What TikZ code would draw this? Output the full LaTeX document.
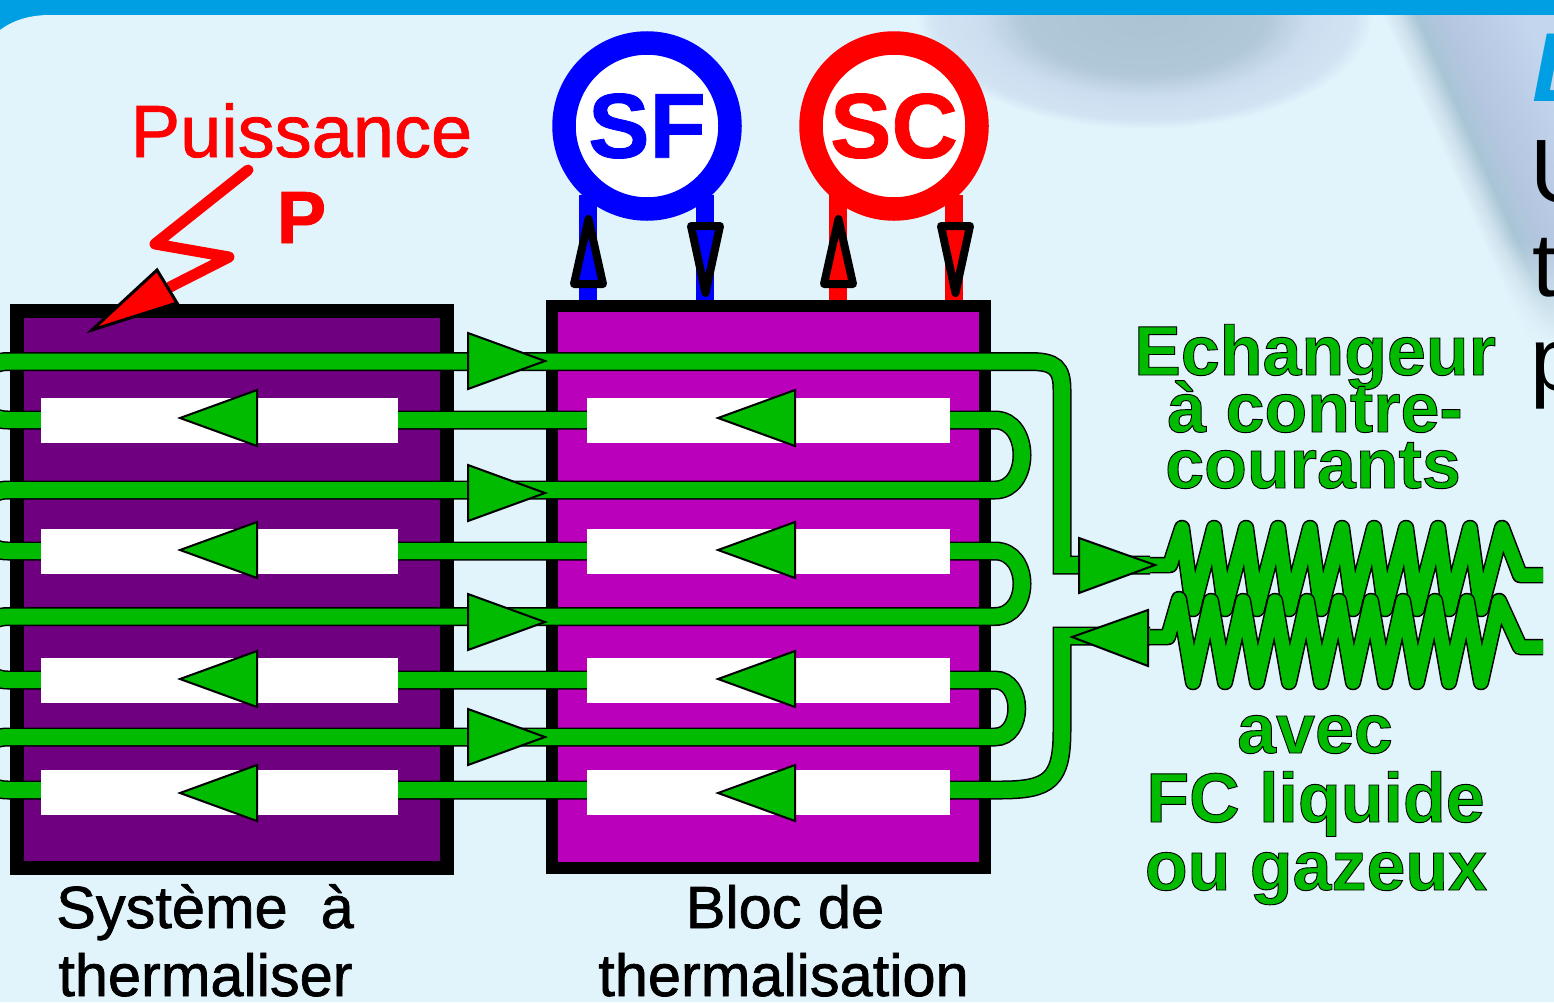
\documentclass[tikz,border=0pt]{standalone}
\usepackage{fontspec}
\setmainfont{Liberation Sans}
\usetikzlibrary{fadings}
\definecolor{bgc}{HTML}{E1F3FB}
\definecolor{barc}{HTML}{009FE3}
\definecolor{pipec}{HTML}{00BB00}
\definecolor{boxa}{HTML}{6F0080}
\definecolor{boxb}{HTML}{BB00BB}
\definecolor{ca}{HTML}{AAC4D4}
\definecolor{cb}{HTML}{B0C8D8}
\definecolor{cc}{HTML}{CCDDF0}
\definecolor{cd}{HTML}{D2E4F3}
\definecolor{ce}{HTML}{A9C5D5}
\definecolor{cf}{HTML}{B4C6E0}
\definecolor{cg}{HTML}{C4D6EE}
\definecolor{cx}{HTML}{CDE0EC}
\pgfdeclareradialshading{blobA}{\pgfpoint{0bp}{0bp}}{color(0bp)=(ca);color(13bp)=(cb);color(18bp)=(cc);color(23bp)=(cd);color(25bp)=(bgc);color(50bp)=(bgc)}
\pgfdeclarehorizontalshading{bandC}{100bp}{color(0bp)=(bgc);color(25bp)=(bgc);color(28bp)=(cx);color(31bp)=(ce);color(36bp)=(cf);color(50bp)=(cg);color(100bp)=(cg)}
\tikzfading[name=fadeBand,top color=transparent!100,bottom color=transparent!0]
\newcommand{\outlined}[1]{\special{pdf:code 2 Tr 0.9 w 0 0 0 RG}#1\special{pdf:code 0 Tr}}
\newcommand{\heavyred}[1]{\special{pdf:code 2 Tr 0.8 w 1 0 0 RG}#1\special{pdf:code 0 Tr}}
\newcommand{\heavyblue}[1]{\special{pdf:code 2 Tr 0.8 w 0 0 1 RG}#1\special{pdf:code 0 Tr}}
\newcommand{\heavyblack}[1]{\special{pdf:code 2 Tr 0.7 w 0 0 0 RG}#1\special{pdf:code 0 Tr}}
\tikzset{
  pipe/.style={draw=black,line width=1.5pt,double=pipec,double distance=16pt,line join=miter},
  coil/.style={draw=black,line width=1.5pt,double=pipec,double distance=13.5pt,line join=round},
  gbox/.style={draw=black,line width=2pt,fill=pipec,line join=miter},
  wbar/.style={fill=white},
  feed/.style={line width=18pt},
  gate/.style={draw=black,line width=8pt,line join=round},
  ring/.style={circle,fill=white,line width=23.5pt,minimum size=166pt,inner sep=0pt,font=\bfseries\fontsize{92}{92}\selectfont},
  blabel/.style={anchor=base,font=\fontsize{59.5}{59.5}\selectfont,inner sep=0pt},
  glabel/.style={anchor=base,text=pipec,font=\bfseries\fontsize{70}{70}\selectfont,inner sep=0pt},
  redlabel/.style={anchor=base,text=red,inner sep=0pt},
  edgeL/.style={anchor=base west,inner sep=0pt,font=\fontsize{90}{90}\selectfont}
}
\begin{document}
\begin{tikzpicture}[x=1pt,y=-1pt]
\useasboundingbox (0,0) rectangle (1554,1002);
\clip (0,0) rectangle (1554,1002);
% background
\fill[barc] (0,0) rectangle (1554,1002);
\fill[bgc] (0,30) .. controls (12,21) and (28,15) .. (50,15) -- (1554,15) -- (1554,1002) -- (0,1002) -- cycle;
\begin{scope}
\clip (0,15) rectangle (1554,1002);
\shade[shading=blobA] (1145,15) ellipse (228 and 114);
\begin{scope}[transform canvas={shift={(1383pt,-17pt)},rotate=24}]
\shade[shading=bandC] (0pt,-600pt) rectangle (260pt,100pt);
\end{scope}
\fill[bgc,path fading=fadeBand] (1370,240) rectangle (1554,345);
\fill[bgc] (1370,345) rectangle (1554,430);
\end{scope}
% boxes
\draw[fill=boxa,draw=black,line width=14pt] (16.5,311) rectangle (447,868);
\draw[fill=boxb,draw=black,line width=12pt] (552,306) rectangle (985,867.5);
% the continuous tube
\draw[pipe] (1150,565) -- (1062,565) -- (1062,390) .. controls (1062,368) and (1055,361.5) .. (1030,361.5)
  -- (8,361.5) .. controls (-32,361.5) and (-32,420) .. (8,420)
  -- (995,420) .. controls (1031,420) and (1031,490) .. (995,490)
  -- (8,490) .. controls (-32,490) and (-32,551) .. (8,551)
  -- (995,551) .. controls (1031,551) and (1031,616.5) .. (995,616.5)
  -- (8,616.5) .. controls (-32,616.5) and (-32,680) .. (8,680)
  -- (995,680) .. controls (1024,680) and (1024,737) .. (995,737)
  -- (8,737) .. controls (-32,737) and (-32,790) .. (8,790)
  -- (1000,790) .. controls (1050,790) and (1062,780) .. (1062,730) -- (1062,636) -- (1150,636);
% white bars
\foreach \yy in {398,529,658,770}{
  \fill[wbar] (41,\yy) rectangle (398,\yy+45);
  \fill[wbar] (587,\yy) rectangle (950,\yy+45);
}
% left-going arrows
\foreach \yy in {418,550,679,793}{
  \draw[gbox] (180,\yy) -- (257,\yy-28) -- (257,\yy+28) -- cycle;
  \draw[gbox] (718,\yy) -- (795,\yy-28) -- (795,\yy+28) -- cycle;
}
% right-going arrows
\foreach \yy in {361,493,622,737}{
  \draw[gbox] (545,\yy) -- (468,\yy-28) -- (468,\yy+28) -- cycle;
}
% coils
\draw[coil] (1150,565) -- (1170,565) -- (1182,528)
 \foreach \i in {0,...,9}{ -- ({1193+\i*32},609) -- ({1214+\i*32},528)} -- (1520,575) -- (1543,575);
\draw[coil] (1150,637) -- (1168,637) -- (1179,599)
 \foreach \i in {0,...,9}{ -- ({1193+\i*32},682) -- ({1211+\i*32},601)} -- (1520,647) -- (1543,647);
\draw[gbox] (1079,538) -- (1155,565) -- (1079,593) -- cycle;
\draw[gbox] (1148,610) -- (1072,637) -- (1148,666) -- cycle;
% sources
\node[ring,draw=blue,text=blue] (sf) at (647,126) {\raisebox{-5pt}{\heavyblue{SF}}};
\node[ring,draw=red,text=red] (sc) at (894,126) {\raisebox{-5pt}{\heavyred{SC}}};
\draw[feed,blue] (588,195) -- (588,300);
\draw[feed,blue] (705,195) -- (705,300);
\draw[feed,red] (837.5,195) -- (837.5,300);
\draw[feed,red] (954,195) -- (954,300);
\draw[gate,fill=blue] (588.5,219) -- (603,284) -- (574,284) -- cycle;
\draw[gate,fill=blue] (705.5,293) -- (691,226) -- (720,226) -- cycle;
\draw[gate,fill=red] (838.5,219) -- (853,284) -- (824,284) -- cycle;
\draw[gate,fill=red] (955.5,293) -- (941,226) -- (970,226) -- cycle;
% lightning
\draw[red,line width=11pt,line cap=round,line join=round] (248,170) -- (155,244) -- (229,257) -- (170,287);
\draw[draw=black,fill=red,line width=3pt] (92,330) -- (157,270) -- (177,303) -- cycle;
% labels
\node[redlabel,font=\fontsize{74}{74}\selectfont] (pu) at (301.5,157) {\heavyred{Puissance}};
\node[redlabel,font=\bfseries\fontsize{74}{74}\selectfont] (pp) at (301.5,243) {\heavyred{P}};
\node[blabel] (s1) at (205,928) {\heavyblack{Système\ \ à}};
\node[blabel] (s2) at (205.5,996) {\heavyblack{thermaliser}};
\node[blabel] (b1) at (785,928) {\heavyblack{Bloc de}};
\node[blabel] (b2) at (783.5,996) {\heavyblack{thermalisation}};
\node[glabel] (g1) at (1315,375) {\outlined{Echangeur}};
\node[glabel] (g2) at (1315,432) {\outlined{à contre-}};
\node[glabel] (g3) at (1313,488) {\outlined{courants}};
\node[glabel] (g4) at (1315,753) {\outlined{avec}};
\node[glabel] (g5) at (1315.5,822) {\outlined{FC liquide}};
\node[glabel] (g6) at (1316,890) {\outlined{ou gazeux}};
% cut text on the right edge
\node[anchor=base west,inner sep=0pt,text=barc,font=\bfseries\itshape\fontsize{98}{98}\selectfont] (e0) at (1532,101) {L};
\node[edgeL] (e1) at (1530,202) {U};
\node[edgeL] (e2) at (1532,296) {t};
\node[edgeL] (e3) at (1530,390) {p};
\end{tikzpicture}
\end{document}
